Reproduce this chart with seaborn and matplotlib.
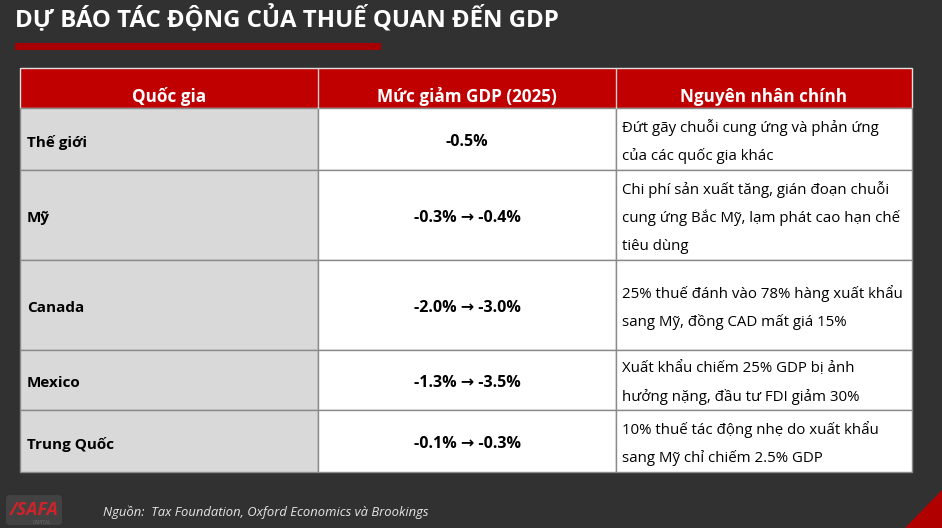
import matplotlib
matplotlib.use("Agg")
import matplotlib.pyplot as plt
import seaborn as sns
from matplotlib.patches import Rectangle, Polygon, FancyBboxPatch

# data
title = "DỰ BÁO TÁC ĐỘNG CỦA THUẾ QUAN ĐẾN GDP"
headers = ["Quốc gia", "Mức giảm GDP (2025)", "Nguyên nhân chính"]
countries = ["Thế giới", "Mỹ", "Canada", "Mexico", "Trung Quốc"]
gdp_drop = ["-0.5%", "-0.3% → -0.4%", "-2.0% → -3.0%",
            "-1.3% → -3.5%", "-0.1% → -0.3%"]
reasons = [
    ["Đứt gãy chuỗi cung ứng và phản ứng", "của các quốc gia khác"],
    ["Chi phí sản xuất tăng, gián đoạn chuỗi",
     "cung ứng Bắc Mỹ, lạm phát cao hạn chế", "tiêu dùng"],
    ["25% thuế đánh vào 78% hàng xuất khẩu", "sang Mỹ, đồng CAD mất giá 15%"],
    ["Xuất khẩu chiếm 25% GDP bị ảnh", "hưởng nặng, đầu tư FDI giảm 30%"],
    ["10% thuế tác động nhẹ do xuất khẩu", "sang Mỹ chỉ chiếm 2.5% GDP"],
]
source = "Nguồn:  Tax Foundation, Oxford Economics và Brookings"

# layout (pixels)
col_edges = [20, 318, 616, 912]
header_top, header_h = 68, 40
row_heights = [62, 90, 90, 60, 62]
line_gap = 28.5

sns.set_theme(style="white")
plt.rcParams["font.family"] = ["Open Sans", "DejaVu Sans"]

bg = "#313131"
red = "#C00000"
grid = "#8a8a8a"

fig = plt.figure(figsize=(9.42, 5.28), dpi=100, facecolor=bg)
ax = fig.add_axes([0, 0, 1, 1])
ax.set_facecolor(bg)
ax.set_xlim(0, 942)
ax.set_ylim(528, 0)
ax.axis("off")

# title + red underline
ax.text(15, 27, title, color="white", fontsize=17.3, fontweight="bold",
        va="baseline", ha="left")
ax.add_patch(Rectangle((15, 43), 366, 7, color="#A80000", lw=0))

# header row
ax.add_patch(Rectangle((col_edges[0], header_top), col_edges[-1] - col_edges[0],
                       header_h, facecolor=red, edgecolor="#e0e0e0", lw=1))
for i, h in enumerate(headers):
    cx = (col_edges[i] + col_edges[i + 1]) / 2
    ax.text(cx, header_top + 29, h, color="white", fontsize=12.3,
            fontweight="bold", ha="center", va="center")
for x in col_edges[1:-1]:
    ax.plot([x, x], [header_top, header_top + header_h], color="#d0d0d0", lw=1)

# body rows
y = header_top + header_h
for country, drop, reason, rh in zip(countries, gdp_drop, reasons, row_heights):
    fills = ["#D9D9D9", "white", "white"]
    for c in range(3):
        ax.add_patch(Rectangle((col_edges[c], y), col_edges[c + 1] - col_edges[c], rh,
                               facecolor=fills[c], edgecolor=grid, lw=1))
    mid = y + rh / 2 + 3
    ax.text(col_edges[0] + 7, mid, country, fontsize=11, fontweight="bold",
            color="black", ha="left", va="center")
    ax.text((col_edges[1] + col_edges[2]) / 2, mid, drop, fontsize=11.5,
            fontweight="bold", color="black", ha="center", va="center")
    n = len(reason)
    for k, line in enumerate(reason):
        ax.text(col_edges[2] + 6, mid + (k - (n - 1) / 2) * line_gap, line,
                fontsize=10.8, color="black", ha="left", va="center")
    y += rh

# source note
ax.text(103, 512, source, color="#e6e6e6", fontsize=9.4, style="italic",
        ha="left", va="center")

# logo
ax.add_patch(FancyBboxPatch((10, 499), 48, 22, boxstyle="round,pad=4",
                            facecolor="#4a4a4a", edgecolor="none", alpha=0.7))
ax.text(34, 510, "/SAFA", color="#D0222A", fontsize=13, fontweight="bold",
        style="italic", ha="center", va="center")
ax.text(42, 522, "CAPITAL", color="#6a6a6a", fontsize=3.5, ha="center",
        va="center")

# red corner
ax.add_patch(Polygon([[905, 528], [942, 490], [942, 528]], closed=True,
                     facecolor="#B00000", edgecolor="none"))

fig.savefig("out.png", dpi=100, facecolor=bg)
